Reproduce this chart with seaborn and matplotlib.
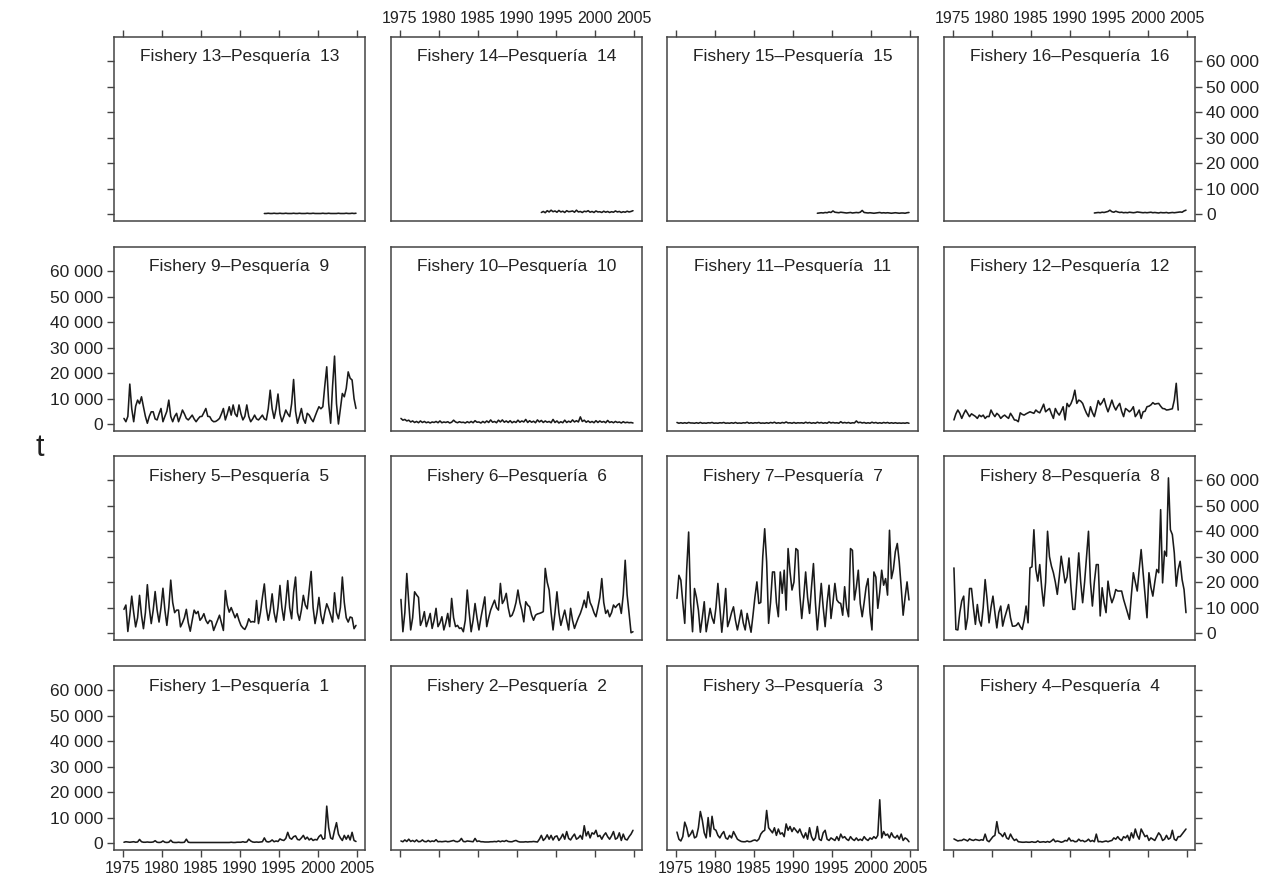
import numpy as np
import pandas as pd
import matplotlib
matplotlib.use("Agg")
import matplotlib.pyplot as plt
import seaborn as sns

sns.set_style("white")
plt.rcParams["font.family"] = ["Liberation Sans", "DejaVu Sans"]

# ---- data: quarterly catch by fishery, thousands of tonnes ----
year_ticks = [1975, 1980, 1985, 1990, 1995, 2000, 2005]
catch_ticks = [0, 10000, 20000, 30000, 40000, 50000, 60000]
catch_tick_labels = ["0", "10 000", "20 000", "30 000", "40 000", "50 000", "60 000"]

start_early = 1975   # fisheries 1-12
start_late = 1993    # fisheries 13-16

f1_kt = [0.3, 0.5, 0.4, 0.3, 0.4, 0.5, 0.3, 0.4, 1.4, 0.5, 0.3, 0.3, 0.4, 0.3, 0.3, 0.4,
         0.9, 0.3, 0.2, 0.3, 0.8, 0.3, 0.2, 0.3, 1.1, 0.3, 0.2, 0.2, 0.3, 0.2, 0.2, 0.3,
         1.5, 0.3, 0.2, 0.2, 0.2, 0.2, 0.2, 0.2, 0.2, 0.2, 0.2, 0.2, 0.2, 0.2, 0.2, 0.2,
         0.2, 0.2, 0.2, 0.2, 0.2, 0.2, 0.2, 0.3, 0.2, 0.2, 0.3, 0.3, 0.3, 0.5, 0.3, 0.4,
         1.5, 0.8, 0.4, 0.3, 0.4, 0.3, 0.4, 0.5, 2.0, 0.6, 0.4, 0.6, 1.2, 0.5, 0.8, 0.6,
         1.6, 1.2, 1.0, 1.8, 4.2, 2.0, 1.5, 2.5, 2.8, 1.4, 1.2, 2.0, 3.0, 1.5, 2.3, 1.2,
         1.8, 1.0, 1.4, 1.2, 2.5, 3.2, 1.5, 1.8, 14.5, 6.0, 2.0, 1.5, 5.0, 8.0, 3.5, 2.0,
         1.0, 3.0, 1.5, 3.0, 1.2, 4.2, 1.0, 0.6]

f2_kt = [0.8, 0.5, 1.2, 0.6, 1.5, 0.6, 1.0, 0.5, 1.2, 0.5, 0.6, 1.2, 0.6, 0.5, 1.0, 0.5,
         0.8, 0.6, 1.3, 0.5, 0.6, 0.5, 0.6, 0.7, 0.5, 0.6, 0.8, 1.0, 0.6, 0.5, 0.8, 1.8,
         0.6, 0.5, 0.8, 0.7, 0.6, 0.5, 1.8, 0.6, 0.8, 0.5, 0.5, 0.4, 0.4, 0.4, 0.5, 0.5,
         0.6, 0.5, 0.8, 0.5, 0.8, 0.6, 1.0, 0.6, 0.5, 0.5, 0.8, 1.0, 0.6, 0.4, 0.4, 0.4,
         0.5, 0.4, 0.5, 0.5, 0.6, 0.5, 0.4, 1.5, 3.0, 1.0, 1.8, 3.2, 1.5, 3.0, 1.2, 2.5,
         2.8, 1.0, 2.0, 3.5, 1.5, 4.5, 1.8, 1.2, 2.5, 3.5, 1.5, 2.0, 3.0, 1.5, 6.8, 2.8,
         4.5, 2.0, 4.0, 3.5, 5.0, 2.5, 3.0, 1.5, 3.0, 4.0, 2.5, 1.5, 2.8, 4.5, 1.5, 2.0,
         4.0, 1.0, 3.5, 1.5, 1.2, 2.5, 3.5, 5.0]

f3_kt = [4.3, 1.5, 0.8, 2.5, 8.2, 6.0, 2.5, 3.5, 5.0, 2.0, 2.5, 6.0, 12.4, 9.0, 4.0, 2.0,
         10.0, 2.5, 10.5, 5.5, 5.0, 3.0, 2.0, 3.5, 4.5, 2.0, 1.5, 3.0, 2.0, 4.5, 3.0, 1.5,
         1.0, 0.6, 0.5, 0.5, 0.8, 0.5, 0.6, 1.0, 1.2, 0.8, 1.5, 3.5, 4.5, 5.0, 12.8, 6.0,
         5.0, 4.0, 6.0, 3.0, 5.5, 3.5, 4.0, 2.5, 7.5, 5.0, 6.5, 4.5, 6.0, 5.0, 4.0, 5.5,
         3.5, 2.0, 4.0, 1.5, 6.0, 2.5, 1.0, 2.0, 6.5, 1.5, 1.0, 4.0, 5.0, 1.5, 1.0, 2.0,
         1.5, 1.0, 2.5, 1.0, 3.5, 2.0, 2.5, 1.5, 1.0, 2.5, 1.5, 1.0, 2.0, 1.0, 1.5, 1.0,
         2.5, 1.5, 1.0, 2.0, 1.5, 2.5, 1.8, 3.0, 17.0, 2.0, 4.5, 3.0, 3.5, 2.0, 4.0, 2.5,
         2.0, 3.0, 1.5, 3.5, 1.0, 2.0, 1.5, 0.5]

f4_kt = [1.6, 1.2, 0.8, 1.0, 1.0, 1.5, 1.2, 0.8, 1.6, 1.2, 1.0, 1.4, 1.2, 1.0, 1.3, 1.1,
         3.5, 1.0, 0.5, 1.5, 2.5, 3.0, 8.4, 4.0, 3.5, 2.5, 4.0, 2.0, 1.5, 3.5, 2.0, 1.0,
         1.5, 0.5, 0.4, 0.3, 0.3, 0.4, 0.3, 0.3, 0.5, 0.3, 0.3, 0.8, 0.3, 0.4, 0.5, 0.3,
         0.6, 0.3, 0.8, 1.5, 0.5, 0.8, 0.6, 0.3, 0.5, 1.0, 0.8, 2.0, 0.8, 1.0, 0.5, 0.6,
         1.5, 0.8, 1.0, 0.5, 0.8, 1.5, 0.6, 1.0, 0.5, 3.5, 0.5, 0.6, 0.4, 0.6, 0.8, 0.5,
         0.8, 1.0, 2.0, 1.5, 2.5, 1.5, 1.0, 2.5, 2.0, 3.0, 1.0, 4.0, 2.0, 5.5, 3.0, 1.5,
         5.5, 4.0, 2.5, 3.0, 1.0, 2.0, 1.5, 1.0, 2.5, 4.0, 3.0, 1.0, 1.5, 3.0, 1.5, 2.0,
         5.0, 1.5, 1.0, 2.5, 2.5, 3.5, 4.5, 5.5]

f5_kt = [9.3, 11.0, 0.6, 7.0, 14.5, 8.0, 2.4, 6.0, 14.8, 7.0, 1.7, 8.0, 19.0, 10.0, 3.7, 9.0,
         16.3, 9.0, 4.3, 10.0, 17.6, 9.0, 3.0, 10.0, 20.8, 12.0, 8.0, 9.0, 9.0, 2.4, 4.0, 6.0,
         9.3, 4.0, 0.7, 5.0, 9.0, 7.6, 8.5, 5.0, 6.0, 7.6, 5.0, 3.7, 5.0, 4.6, 1.0, 3.0,
         5.0, 7.0, 4.0, 1.0, 16.7, 11.0, 8.2, 10.0, 8.0, 6.0, 7.6, 5.0, 3.0, 2.0, 1.4, 3.0,
         5.6, 4.3, 4.5, 4.3, 12.8, 3.7, 8.0, 14.0, 19.3, 10.0, 5.0, 9.0, 15.4, 8.0, 4.3, 10.0,
         18.7, 10.0, 5.0, 12.0, 20.6, 10.0, 5.6, 16.0, 22.0, 8.0, 5.0, 9.0, 14.8, 11.0, 9.5, 17.0,
         24.2, 10.0, 3.7, 8.0, 14.0, 7.0, 3.7, 8.0, 11.5, 9.5, 7.0, 4.3, 15.8, 8.0, 5.6, 10.0,
         22.0, 12.0, 6.0, 4.3, 6.3, 6.0, 1.7, 3.0]

f6_kt = [13.2, 0.5, 8.0, 23.4, 12.0, 1.2, 6.0, 16.2, 15.0, 14.0, 3.0, 5.0, 8.4, 2.5, 5.0, 7.7,
         1.8, 5.0, 9.7, 2.5, 4.0, 6.4, 1.2, 4.0, 7.7, 2.5, 13.6, 6.0, 2.5, 3.0, 1.8, 2.0,
         0.5, 5.0, 16.9, 8.0, 0.5, 5.0, 11.6, 6.0, 1.2, 6.0, 10.0, 14.2, 2.5, 6.0, 9.0, 11.0,
         12.9, 10.0, 9.0, 19.5, 11.6, 13.0, 15.6, 10.0, 6.4, 7.0, 9.0, 12.0, 16.9, 12.0, 9.0, 4.4,
         12.3, 11.0, 10.3, 7.0, 5.0, 7.0, 7.5, 7.7, 8.0, 8.4, 25.4, 20.0, 16.9, 8.0, 1.2, 8.0,
         16.2, 8.0, 3.0, 6.0, 9.0, 5.0, 1.2, 9.7, 5.0, 1.8, 4.0, 6.0, 7.7, 10.0, 12.9, 10.0,
         16.2, 12.0, 10.3, 8.0, 6.4, 10.0, 14.0, 21.4, 12.0, 7.7, 9.0, 6.4, 8.0, 11.0, 10.0, 11.0,
         11.6, 7.7, 15.0, 28.6, 15.0, 7.7, 0.1, 0.5]

f7_kt = [13.6, 22.7, 20.8, 12.0, 3.8, 25.0, 39.7, 12.0, 0.5, 17.5, 14.0, 9.0, 0.3, 6.0, 12.3, 0.5,
         5.0, 9.7, 6.0, 3.8, 10.0, 19.5, 10.0, 0.3, 8.0, 17.5, 2.5, 5.0, 8.0, 10.3, 5.0, 1.2,
         5.0, 9.0, 4.0, 1.2, 7.7, 4.0, 0.3, 7.0, 14.2, 20.1, 11.6, 12.0, 30.0, 41.0, 28.0, 3.8,
         12.0, 24.0, 24.0, 12.0, 6.4, 24.0, 15.6, 24.7, 9.0, 33.2, 24.0, 16.9, 20.0, 33.2, 32.5, 15.0,
         5.7, 14.0, 24.0, 14.0, 7.7, 18.0, 27.3, 12.0, 1.2, 10.0, 19.5, 10.0, 2.5, 12.0, 18.8, 5.7,
         12.0, 19.5, 13.0, 12.0, 11.6, 7.0, 18.2, 10.0, 6.4, 33.2, 32.5, 13.0, 18.0, 24.7, 11.6, 6.4,
         12.0, 18.0, 21.4, 8.0, 1.2, 24.0, 22.0, 9.7, 16.0, 24.7, 18.8, 21.4, 14.9, 40.4, 21.4, 25.0,
         32.0, 35.2, 28.0, 18.0, 7.0, 14.0, 20.1, 13.0]

f8_kt = [25.6, 1.4, 1.2, 8.0, 12.6, 14.5, 1.4, 6.0, 17.5, 17.5, 10.0, 3.4, 11.2, 5.0, 2.7, 10.0,
         21.0, 13.2, 4.0, 10.0, 14.5, 8.0, 2.0, 8.0, 10.6, 2.7, 6.0, 8.6, 11.2, 6.0, 2.7, 2.7,
         3.0, 4.0, 2.5, 1.4, 5.0, 10.6, 4.0, 25.6, 26.0, 40.6, 25.0, 20.4, 26.9, 17.8, 10.6, 20.0,
         40.0, 30.0, 26.3, 23.7, 20.0, 15.2, 22.0, 30.2, 25.0, 19.7, 22.0, 29.5, 18.0, 9.3, 9.3, 20.0,
         31.5, 20.0, 11.9, 20.0, 30.0, 40.0, 20.0, 10.6, 20.0, 26.9, 26.9, 6.7, 17.8, 12.0, 8.0, 20.4,
         15.0, 11.9, 14.0, 17.1, 16.5, 16.5, 16.5, 13.2, 10.6, 8.0, 5.4, 15.0, 23.7, 20.0, 16.5, 25.0,
         32.8, 23.7, 15.0, 6.0, 23.7, 18.0, 14.5, 20.0, 25.0, 23.7, 48.5, 19.7, 32.2, 30.2, 61.0, 40.6,
         38.7, 31.5, 18.4, 25.0, 28.2, 21.0, 17.1, 8.0]

f9_kt = [2.2, 0.9, 3.0, 15.7, 6.0, 0.9, 7.0, 9.4, 8.0, 10.7, 6.8, 3.0, 0.3, 3.0, 4.8, 4.8,
         2.0, 1.6, 4.0, 6.1, 0.9, 3.0, 5.0, 9.4, 3.0, 0.9, 3.0, 4.2, 0.9, 3.0, 5.5, 4.0,
         2.2, 1.6, 2.5, 3.5, 2.0, 0.9, 2.0, 2.9, 3.0, 4.5, 6.1, 3.0, 2.9, 1.5, 0.9, 1.0,
         1.5, 2.2, 4.0, 6.1, 1.6, 4.0, 6.8, 3.5, 7.5, 4.0, 2.9, 7.5, 4.0, 1.6, 3.0, 7.5,
         3.0, 0.9, 2.0, 3.5, 2.0, 1.6, 2.5, 3.5, 2.0, 1.6, 6.0, 13.3, 6.0, 2.2, 6.0, 11.8,
         4.0, 0.9, 3.0, 5.5, 4.0, 2.9, 8.0, 17.5, 5.0, 0.3, 3.0, 6.1, 2.0, 0.3, 4.2, 3.5,
         2.0, 0.9, 3.0, 5.0, 6.8, 6.0, 6.8, 15.0, 22.5, 8.0, 0.3, 15.0, 26.7, 8.0, 0.0, 6.0,
         12.0, 10.7, 14.0, 20.5, 18.0, 17.3, 10.0, 6.1]

f10_kt = [2.2, 1.5, 1.8, 1.2, 1.5, 0.8, 1.2, 0.6, 1.0, 0.5, 1.2, 0.6, 1.0, 0.5, 0.8, 0.4,
          0.8, 0.6, 1.0, 0.5, 1.2, 0.5, 0.8, 0.6, 0.9, 0.4, 0.7, 1.5, 0.8, 0.5, 0.9, 0.6,
          0.7, 0.4, 0.9, 0.5, 1.0, 0.5, 1.3, 0.7, 0.8, 0.4, 1.0, 0.5, 1.2, 0.6, 1.6, 0.7,
          1.0, 0.5, 1.5, 0.8, 1.6, 0.7, 1.2, 0.6, 1.3, 0.5, 1.0, 0.6, 1.5, 0.7, 1.2, 0.8,
          1.8, 0.6, 1.3, 0.7, 1.1, 0.5, 1.6, 0.8, 1.4, 0.6, 1.2, 0.7, 1.0, 0.5, 1.8, 0.6,
          1.2, 0.4, 0.9, 0.5, 1.5, 0.6, 1.1, 0.7, 1.6, 0.8, 1.3, 0.8, 2.8, 1.0, 1.5, 0.7,
          1.2, 0.6, 1.0, 0.5, 1.3, 0.6, 1.2, 0.7, 1.0, 0.5, 1.4, 0.6, 0.9, 0.5, 1.0, 0.6,
          0.8, 0.4, 0.9, 0.5, 0.7, 0.5, 0.6, 0.4]

f11_kt = [0.6, 0.3, 0.5, 0.3, 0.5, 0.3, 0.6, 0.4, 0.4, 0.3, 0.5, 0.3, 0.6, 0.3, 0.4, 0.3,
          0.5, 0.4, 0.6, 0.3, 0.4, 0.3, 0.5, 0.4, 0.6, 0.3, 0.4, 0.3, 0.5, 0.3, 0.6, 0.3,
          0.4, 0.3, 0.5, 0.4, 0.7, 0.3, 0.5, 0.3, 0.5, 0.4, 0.6, 0.3, 0.4, 0.3, 0.5, 0.3,
          0.6, 0.4, 0.7, 0.3, 0.5, 0.3, 0.6, 0.4, 0.8, 0.4, 0.5, 0.3, 0.6, 0.3, 0.5, 0.4,
          0.5, 0.3, 0.7, 0.4, 0.6, 0.3, 0.5, 0.3, 0.7, 0.4, 0.6, 0.3, 0.5, 0.3, 0.8, 0.4,
          0.6, 0.4, 0.5, 0.3, 0.9, 0.4, 0.6, 0.4, 0.6, 0.3, 0.5, 0.4, 1.2, 0.5, 0.7, 0.4,
          0.6, 0.3, 0.5, 0.3, 0.7, 0.4, 0.6, 0.3, 0.5, 0.3, 0.6, 0.4, 0.6, 0.3, 0.5, 0.3,
          0.5, 0.3, 0.4, 0.3, 0.4, 0.3, 0.5, 0.3]

f12_kt = [1.6, 4.0, 5.5, 4.2, 2.2, 4.0, 5.5, 4.2, 2.9, 4.0, 3.5, 3.0, 2.2, 3.5, 2.9, 3.5,
          2.2, 3.0, 2.9, 5.5, 4.0, 2.9, 4.2, 3.5, 2.2, 3.0, 3.5, 2.8, 2.2, 4.2, 3.0, 1.6,
          1.5, 0.9, 4.4, 3.8, 3.5, 4.0, 4.4, 4.8, 4.5, 4.2, 5.5, 4.8, 4.4, 6.0, 7.8, 4.8,
          5.5, 6.1, 4.0, 2.2, 6.1, 4.5, 3.5, 5.0, 6.8, 1.6, 8.1, 6.8, 8.0, 10.0, 13.3, 8.1,
          9.4, 9.0, 8.1, 6.0, 4.2, 2.9, 6.8, 4.5, 2.9, 6.0, 9.2, 7.5, 8.5, 10.0, 7.0, 4.8,
          7.0, 9.4, 7.0, 5.5, 7.0, 8.1, 5.0, 2.9, 6.1, 5.5, 4.8, 5.5, 6.8, 2.9, 4.0, 5.5,
          2.2, 4.8, 5.0, 6.8, 7.0, 7.5, 8.4, 7.8, 8.0, 8.1, 7.0, 6.1, 6.0, 5.5, 5.6, 5.8,
          6.0, 9.4, 16.0, 5.5]

f13_kt = [0.2, 0.2, 0.3, 0.2, 0.2, 0.3, 0.2, 0.2, 0.3, 0.2, 0.2, 0.3, 0.2, 0.2, 0.2, 0.3,
          0.2, 0.2, 0.3, 0.2, 0.2, 0.2, 0.3, 0.2, 0.2, 0.3, 0.2, 0.2, 0.2, 0.2, 0.3, 0.2,
          0.2, 0.3, 0.2, 0.2, 0.2, 0.2, 0.3, 0.2, 0.2, 0.2, 0.3, 0.2, 0.2, 0.3, 0.2, 0.3]

f14_kt = [0.6, 1.0, 0.5, 1.3, 0.8, 1.5, 0.9, 1.2, 0.7, 1.4, 0.8, 1.1, 0.6, 1.3, 0.9, 1.0,
          1.2, 0.7, 1.5, 0.8, 1.0, 0.6, 1.1, 0.9, 1.3, 0.7, 1.0, 0.6, 1.2, 0.8, 0.9, 0.6,
          1.1, 0.7, 1.0, 0.6, 0.9, 0.7, 1.2, 0.8, 1.0, 0.6, 0.9, 0.7, 1.1, 0.8, 1.0, 1.3]

f15_kt = [0.3, 0.4, 0.5, 0.4, 0.6, 0.5, 0.8, 0.6, 1.2, 0.7, 0.6, 0.5, 0.7, 0.6, 0.5, 0.4,
          0.5, 0.6, 0.4, 0.5, 0.6, 0.5, 0.7, 1.4, 0.6, 0.5, 0.4, 0.5, 0.4, 0.3, 0.4, 0.5,
          0.6, 0.4, 0.5, 0.4, 0.5, 0.4, 0.3, 0.4, 0.5, 0.4, 0.3, 0.4, 0.4, 0.3, 0.5, 0.6]

f16_kt = [0.4, 0.5, 0.6, 0.5, 0.7, 0.6, 0.8, 1.0, 1.5, 0.9, 0.7, 1.1, 0.8, 0.6, 0.7, 0.5,
          0.6, 0.5, 0.7, 0.6, 0.5, 0.6, 0.8, 0.7, 0.6, 0.5, 0.6, 0.5, 0.6, 0.7, 0.5, 0.6,
          0.5, 0.4, 0.6, 0.5, 0.5, 0.6, 0.4, 0.5, 0.6, 0.5, 0.6, 0.7, 0.8, 0.7, 1.2, 1.5]

series = [f1_kt, f2_kt, f3_kt, f4_kt, f5_kt, f6_kt, f7_kt, f8_kt,
          f9_kt, f10_kt, f11_kt, f12_kt, f13_kt, f14_kt, f15_kt, f16_kt]
starts = [start_early] * 12 + [start_late] * 4

rows = []
for k, (vals, y0) in enumerate(zip(series, starts), start=1):
    for i, v in enumerate(vals):
        rows.append({"fishery": k, "year": y0 + (i + 0.5) / 4.0, "catch": v * 1000.0})
df = pd.DataFrame(rows)

# ---- layout (lattice style: 4 x 4 panels, fishery 1 at bottom-left) ----
W, H = 1271, 886
fig = plt.figure(figsize=(W / 100, H / 100), dpi=100)
col_left = [114, 391, 667, 944]
row_top = [37, 247, 456, 666]
pw, ph = 251, 184
panel_grid = [[13, 14, 15, 16], [9, 10, 11, 12], [5, 6, 7, 8], [1, 2, 3, 4]]

ink = "#1a1a1a"
frame = "#444444"
txt = "#222222"

for r, row in enumerate(panel_grid):
    for c, k in enumerate(row):
        ax = fig.add_axes([col_left[c] / W, 1 - (row_top[r] + ph) / H, pw / W, ph / H])
        sub = df[df["fishery"] == k]
        sns.lineplot(data=sub, x="year", y="catch", ax=ax, color=ink,
                     linewidth=1.15, estimator=None, sort=False)
        ax.set_xlim(1973.85, 2006.03)
        ax.set_ylim(-2750, 69600)
        ax.set_xlabel("")
        ax.set_ylabel("")
        for s in ax.spines.values():
            s.set_color(frame)
            s.set_linewidth(1.1)

        ax.set_xticks(year_ticks)
        ax.set_xticklabels([str(y) for y in year_ticks],
                           family=["Liberation Sans Narrow", "Liberation Sans"],
                           fontsize=11.5, color=txt)
        ax.set_yticks(catch_ticks)
        ax.set_yticklabels(catch_tick_labels, fontsize=12.5, color=txt)

        on_left = c == 0
        on_right = c == 3
        on_top = r == 0
        on_bottom = r == 3
        ax.tick_params(axis="x", direction="out", length=5, width=1.0, color=frame, pad=3,
                       top=on_top, bottom=on_bottom,
                       labeltop=on_top and c in (1, 3),
                       labelbottom=on_bottom and c in (0, 2))
        ax.tick_params(axis="y", direction="out", length=5, width=1.0, color=frame, pad=3,
                       left=on_left, right=on_right,
                       labelleft=on_left and r in (1, 3),
                       labelright=on_right and r in (0, 2))

        ax.text(0.5, 1 - 20 / ph, f"Fishery {k}\u2013Pesquer\u00eda  {k}",
                transform=ax.transAxes, ha="center", va="center",
                fontsize=12.5, color=txt)

fig.text(40 / W, 1 - 448 / H, "t", fontsize=22, color=txt, ha="center", va="center")

fig.savefig("out.png", dpi=100, facecolor="white")
